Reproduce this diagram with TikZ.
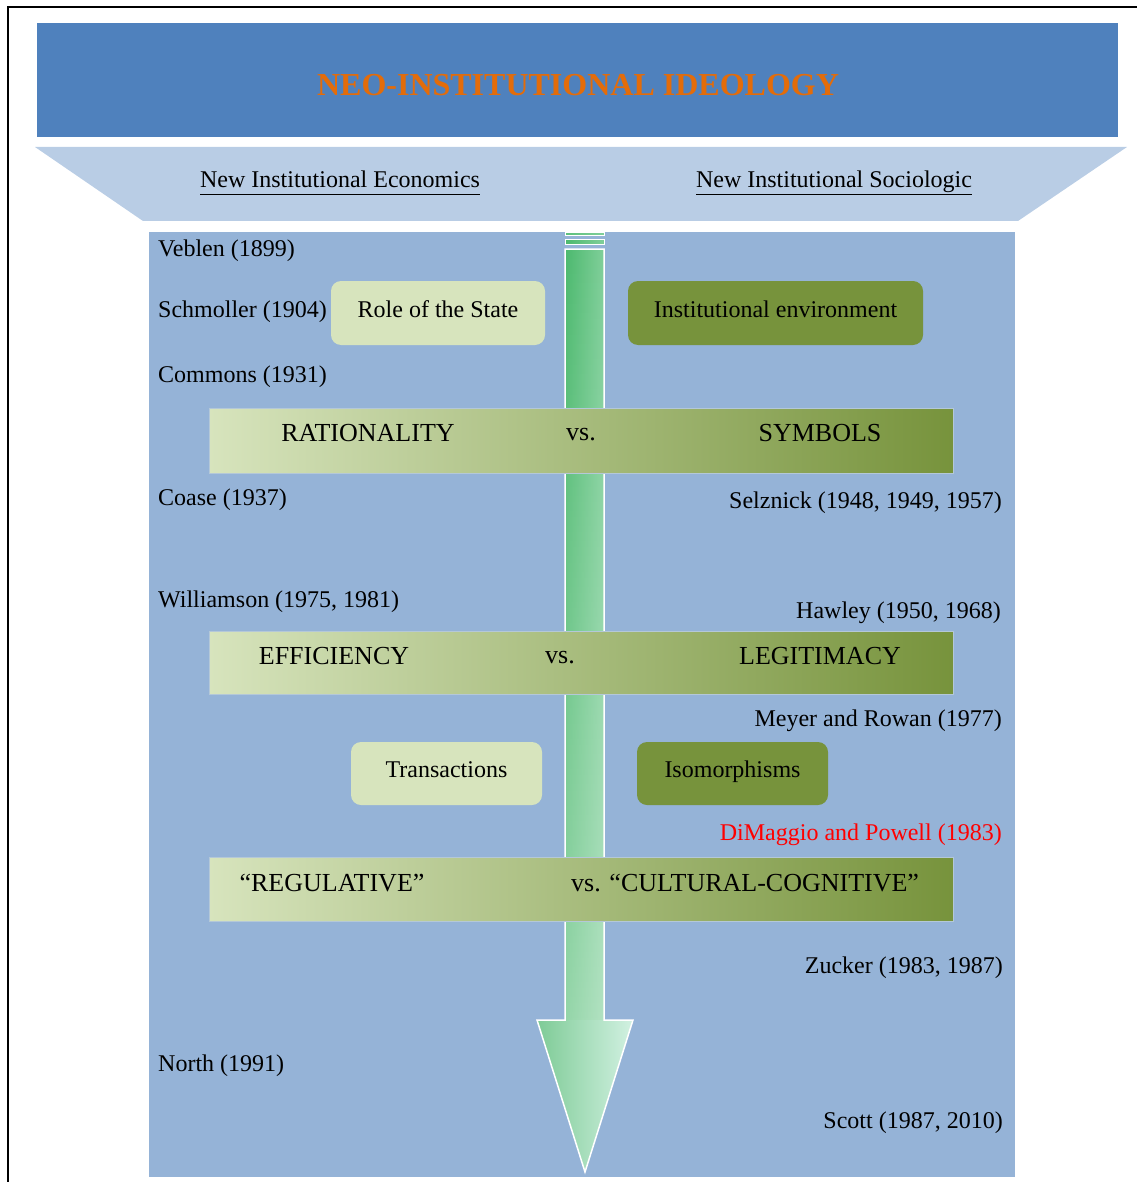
\documentclass[tikz,border=0pt]{standalone}
\usepackage{fontspec}
\setmainfont{Liberation Serif}
\usetikzlibrary{fadings}
\definecolor{titleblue}{HTML}{4F81BD}
\definecolor{titleorange}{HTML}{E36C0A}
\definecolor{trapblue}{HTML}{B9CDE5}
\definecolor{panelblue}{HTML}{95B3D7}
\definecolor{lgreen}{HTML}{D7E4BD}
\definecolor{olive}{HTML}{77933C}
\definecolor{arrowA}{HTML}{4CB96E}
\definecolor{arrowB}{HTML}{80CF9A}
\definecolor{arrowC}{HTML}{7ECB96}
\definecolor{arrowD}{HTML}{D2F1E2}
\definecolor{bandborder}{HTML}{B4C8D8}
\tikzfading[name=fadedown, top color=transparent!100, bottom color=transparent!0]
\begin{document}
\begin{tikzpicture}[x=1pt,y=-1pt,
  lbl/.style={font=\fontsize{24}{28}\selectfont, inner sep=0pt},
  bandtxt/.style={font=\fontsize{26}{30}\selectfont, inner sep=0pt},
  rbox/.style={rounded corners=10pt, inner sep=0pt, font=\fontsize{24}{28}\selectfont, text height=18pt, text depth=10pt},
  band/.style={left color=lgreen, right color=olive, draw=bandborder, line width=1pt}]
\useasboundingbox (0,0) rectangle (1137,1182);
% frame
\draw[line width=2pt] (8,1182) -- (8,7) -- (1137,7);
% title
\fill[titleblue] (37,23) rectangle (1118,137);
\node[inner sep=0pt, font=\fontsize{32}{36}\selectfont\bfseries, text=titleorange] (title) at (578,85) {NEO-INSTITUTIONAL IDEOLOGY};
% trapezoid
\fill[trapblue] (35,147) -- (1127,147) -- (1018,221) -- (143,221) -- cycle;
\node[lbl, anchor=base] (nie) at (340,188) {\underline{New Institutional Economics\vphantom{g}}};
\node[lbl, anchor=base] (nis) at (834,188) {\underline{New Institutional Sociologic\vphantom{g}}};
% panel
\fill[panelblue] (149,232) rectangle (1015,1177);
% arrow
\shade[left color=arrowA!70!arrowB, right color=arrowB] (565,233) rectangle (604,236);
\shade[left color=arrowA, right color=arrowB] (565,240) rectangle (604,245);
\draw[white, line width=1pt] (565,233) rectangle (604,236);
\draw[white, line width=1pt] (565,240) rectangle (604,245);
\shade[left color=arrowA, right color=arrowB] (565,249) rectangle (604,1021);
\fill[white, path fading=fadedown, fill opacity=0.4] (565,249) rectangle (604,1021);
\shade[left color=arrowC, right color=arrowD] (537,1020) -- (633,1020) -- (585,1172) -- cycle;
\draw[white, line width=1.5pt, line join=miter] (565,249) -- (604,249) -- (604,1020) -- (633,1020) -- (585,1172) -- (537,1020) -- (565,1020) -- cycle;
% boxes
\node[rbox, fill=lgreen, minimum width=214pt, minimum height=64pt] (role) at (438,313) {Role of the State};
\node[rbox, fill=olive, minimum width=295pt, minimum height=64pt] (env) at (775.5,313) {Institutional environment};
\node[rbox, fill=lgreen, minimum width=191pt, minimum height=63pt] (trans) at (446.5,773.5) {Transactions};
\node[rbox, fill=olive, minimum width=191pt, minimum height=63pt] (iso) at (732.5,773.5) {Isomorphisms};
% bands
\shadedraw[band] (209,408) rectangle (953,473);
\shadedraw[band] (209,631) rectangle (953,694);
\shadedraw[band] (209,857) rectangle (953,921);
\node[bandtxt] (rat) at (368,433) {RATIONALITY};
\node[bandtxt] (vs1) at (581,435) {vs.};
\node[bandtxt] (sym) at (820,433) {SYMBOLS};
\node[bandtxt] (eff) at (334,656) {EFFICIENCY};
\node[bandtxt] (vs2) at (560,658) {vs.};
\node[bandtxt] (leg) at (820,656) {LEGITIMACY};
\node[bandtxt] (reg) at (332,883) {“REGULATIVE”};
\node[bandtxt, anchor=west] (cc) at (571,883) {vs. “CULTURAL-COGNITIVE”};
% left labels
\node[lbl, anchor=base west] (veblen) at (158,256) {Veblen (1899)};
\node[lbl, anchor=base west] (schmoller) at (158,317) {Schmoller (1904)};
\node[lbl, anchor=base west] (commons) at (158,382) {Commons (1931)};
\node[lbl, anchor=base west] (coase) at (158,505) {Coase (1937)};
\node[lbl, anchor=base west] (williamson) at (158,607) {Williamson (1975, 1981)};
\node[lbl, anchor=base west] (north) at (158,1071) {North (1991)};
% right labels
\node[lbl, anchor=base east] (selznick) at (1002,508) {Selznick (1948, 1949, 1957)};
\node[lbl, anchor=base east] (hawley) at (1001,618) {Hawley (1950, 1968)};
\node[lbl, anchor=base east] (meyer) at (1002,726) {Meyer and Rowan (1977)};
\node[lbl, anchor=base east, text=red] (dimaggio) at (1002,840) {DiMaggio and Powell (1983)};
\node[lbl, anchor=base east] (zucker) at (1003,973) {Zucker (1983, 1987)};
\node[lbl, anchor=base east] (scott) at (1003,1128) {Scott (1987, 2010)};
\end{tikzpicture}
\end{document}
